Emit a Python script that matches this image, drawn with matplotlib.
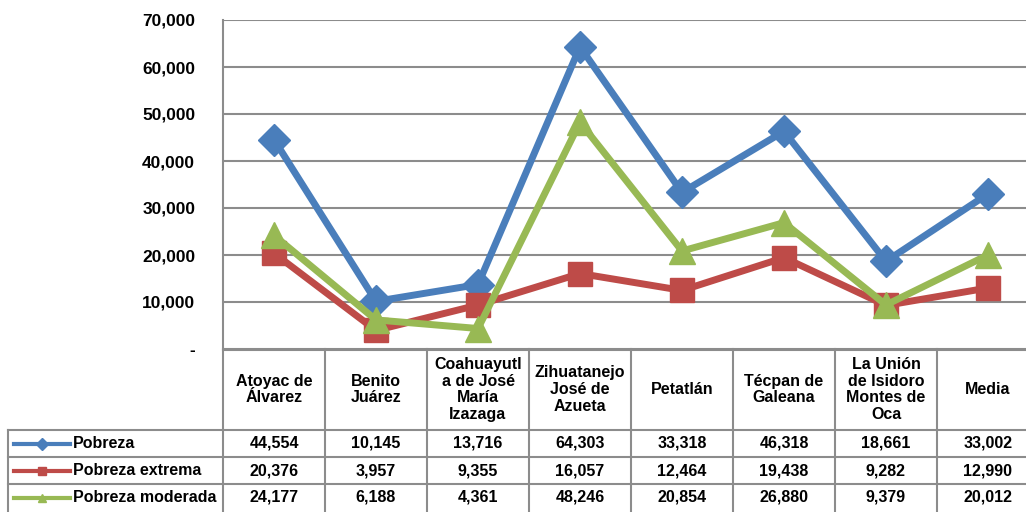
# Pobreza por municipio, gráfica de líneas con tabla de datos

import matplotlib.pyplot as plt
import numpy as np

municipios = ['Atoyac de\nÁlvarez', 'Benito\nJuárez', 'Coahuayutl\na de José\nMaría\nIzazaga',
              'Zihuatanejo\nJosé de\nAzueta', 'Petatlán', 'Técpan de\nGaleana',
              'La Unión\nde Isidoro\nMontes de\nOca', 'Media']
pobreza = [44554, 10145, 13716, 64303, 33318, 46318, 18661, 33002]
pobreza_extrema = [20376, 3957, 9355, 16057, 12464, 19438, 9282, 12990]
pobreza_moderada = [24177, 6188, 4361, 48246, 20854, 26880, 9379, 20012]
series = ['Pobreza', 'Pobreza extrema', 'Pobreza moderada']
y_ticks = [0, 10000, 20000, 30000, 40000, 50000, 60000, 70000]
y_labels = ['-', '10,000', '20,000', '30,000', '40,000', '50,000', '60,000', '70,000']

colores = ['#4A7EBB', '#BE4B48', '#98B954']
marcadores = ['D', 's', '^']
tamanos = [16, 17, 19]
gris = '#8C8C8C'

plt.rcParams['font.family'] = ['Liberation Sans', 'DejaVu Sans']
plt.rcParams['font.weight'] = 'bold'

W, H = 1026, 512
col_w = 102  # ancho de cada columna en px
x0 = 223     # borde izquierdo del área de trazado
fig = plt.figure(figsize=(W / 100, H / 100), dpi=100)

# área de la gráfica
ax = fig.add_axes([x0 / W, (H - 349) / H, 8 * col_w / W, (349 - 20) / H])
x = np.arange(len(municipios))
datos = [pobreza, pobreza_extrema, pobreza_moderada]
for vals, c, m, s in zip(datos, colores, marcadores, tamanos):
    ax.plot(x, vals, color=c, lw=5, marker=m, markersize=s, zorder=3, clip_on=False)
ax.set_xlim(-0.5, 7.5)
ax.set_ylim(0, 70000)
ax.set_yticks(y_ticks)
ax.set_yticklabels(y_labels, fontsize=12.5, fontweight='bold')
ax.tick_params(axis='y', length=0, pad=20)
ax.set_xticks([])
ax.grid(axis='y', color=gris, lw=1.5)
for side in ['top', 'right', 'bottom']:
    ax.spines[side].set_visible(False)
ax.spines['left'].set_color(gris)
ax.spines['left'].set_linewidth(1.5)

# tabla de datos
tab = fig.add_axes([x0 / W, 0, 8 * col_w / W, 163 / H])
tab.set_xlim(-0.5, 7.5)
tab.set_ylim(163, 0)
tab.axis('off')
izq = -0.5 - (x0 - 8) / col_w
filas = [81, 108, 135]

lk = dict(color=gris, lw=1.5, clip_on=False)
tab.plot([-0.5, 7.5], [0.5, 0.5], **lk)
for yf in filas:
    tab.plot([izq, 7.5], [yf, yf], **lk)
for k in range(9):
    tab.plot([-0.5 + k, -0.5 + k], [0, 163], **lk)
tab.plot([izq, izq], [81, 163], **lk)

for i, nombre in enumerate(municipios):
    tab.text(i, 40.5, nombre, ha='center', va='center', fontsize=11.5,
             fontweight='bold', linespacing=1.15)

for r, (vals, nombre, c, m) in enumerate(zip(datos, series, colores, marcadores)):
    yc = filas[r] + 13.5
    for i, v in enumerate(vals):
        tab.text(i, yc, f'{v:,}', ha='center', va='center', fontsize=11.5, fontweight='bold')
    xa = -0.5 - (x0 - 14) / col_w
    xb = -0.5 - (x0 - 70) / col_w
    tab.plot([xa, xb], [yc, yc], color=c, lw=3, clip_on=False)
    tab.plot([(xa + xb) / 2], [yc], color=c, marker=m, markersize=6, clip_on=False)
    tab.text(-0.5 - (x0 - 73) / col_w, yc, nombre, ha='left', va='center',
             fontsize=11.5, fontweight='bold')

fig.savefig('out.png', dpi=100)
